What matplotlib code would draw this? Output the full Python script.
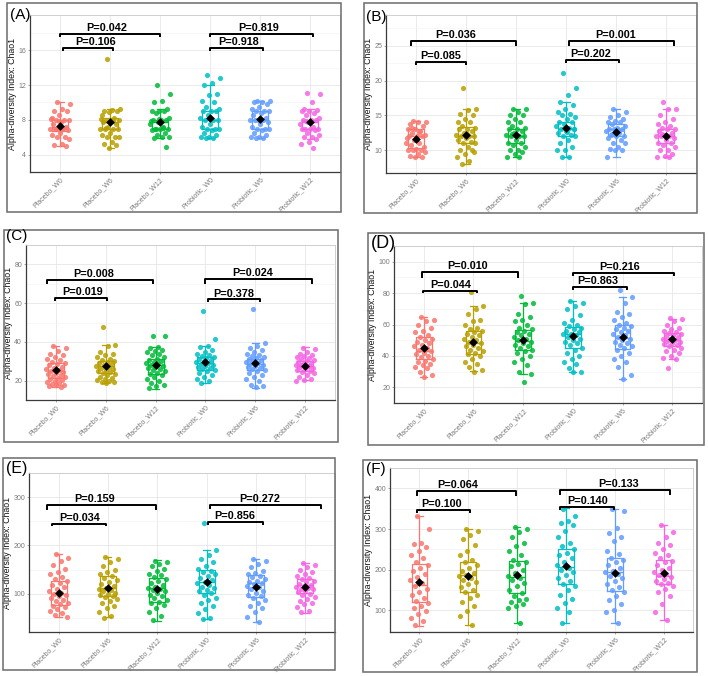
import numpy as np
import matplotlib
matplotlib.use("Agg")
import matplotlib.pyplot as plt
from matplotlib.patches import Rectangle

plt.rcParams["font.family"] = ["Liberation Sans", "DejaVu Sans"]

GROUPS = ["Placebo_W0", "Placebo_W6", "Placebo_W12",
          "Probiotic_W0", "Probiotic_W6", "Probiotic_W12"]
COLORS = ["#F8766D", "#B79F00", "#00BA38", "#00BFC4", "#619CFF", "#F564E3"]
YLABEL = "Alpha-diversity Index: Chao1"

# box stats per group: q1, median, q3, whisker low, whisker high, mean
A_BOX = [(6.7, 7.2, 8.0, 5.0, 10.0, 7.3), (7.0, 7.7, 8.2, 4.8, 9.2, 7.7),
         (7.0, 7.7, 8.0, 5.9, 9.2, 7.8), (7.0, 8.0, 9.0, 5.9, 12.0, 8.2),
         (7.0, 8.0, 9.0, 5.9, 10.2, 8.1), (7.0, 7.8, 8.0, 5.8, 9.2, 7.7)]
A_PTS = [
    [10, 9.8, 9.2, 9.0, 9.0, 8.5, 8.2, 8.0, 8.0, 8.0, 7.8, 7.5, 7.2, 7.0, 7.0, 7.0, 7.0, 6.8, 6.5, 6.2,
     6.0, 6.0, 5.8, 5.2, 5.1, 5.0, 7.9, 8.1, 7.1, 6.9],
    [15, 9.2, 9.1, 9.0, 9.0, 8.9, 8.5, 8.2, 8.0, 8.0, 8.0, 7.8, 7.5, 7.2, 7.0, 7.0, 7.0, 7.0, 6.5, 6.2,
     6.0, 6.0, 6.0, 5.5, 5.2, 5.1, 4.8, 8.1, 7.9, 7.1],
    [12, 11, 10.2, 10.0, 9.2, 9.0, 9.0, 9.0, 8.8, 8.2, 8.0, 8.0, 8.0, 7.8, 7.5, 7.2, 7.0, 7.0, 7.0, 6.8,
     6.5, 6.2, 6.0, 6.0, 5.9, 4.9, 8.1, 7.9, 7.1, 6.9],
    [13.2, 12.8, 12.2, 12.0, 11.0, 10.8, 10.2, 10.0, 9.5, 9.2, 9.0, 9.0, 9.0, 8.5, 8.2, 8.0, 8.0, 8.0,
     7.5, 7.2, 7.0, 7.0, 7.0, 6.8, 6.5, 6.2, 6.0, 6.0, 5.9, 5.9],
    [10.2, 10.2, 10.0, 10.0, 9.8, 9.5, 9.2, 9.0, 9.0, 9.0, 8.8, 8.5, 8.2, 8.0, 8.0, 8.0, 8.0, 7.8, 7.5,
     7.2, 7.0, 7.0, 7.0, 6.8, 6.5, 6.2, 6.0, 6.0, 5.9, 5.9],
    [11.1, 11.0, 10.0, 9.2, 9.1, 9.0, 9.0, 8.8, 8.5, 8.2, 8.0, 8.0, 8.0, 7.8, 7.5, 7.2, 7.0, 7.0, 7.0,
     7.0, 6.8, 6.5, 6.2, 6.0, 6.0, 5.8, 5.5, 5.2, 4.8, 7.9],
]
# brackets: x start, x end, bar y, tick end y, text x, label
A_BRACKETS = [(1.0, 3.0, 17.9, 17.5, 1.93, "P=0.042"), (1.05, 2.05, 16.25, 15.95, 1.72, "P=0.106"),
              (4.0, 6.05, 17.9, 17.5, 4.98, "P=0.819"), (4.0, 5.05, 16.25, 15.9, 4.57, "P=0.918")]
A_YTICKS = [4, 8, 12, 16]
A_YLIM = (3.76, 20.06)

B_BOX = [(10.3, 12.0, 13.1, 9.0, 14.2, 11.6), (11.0, 12.1, 13.3, 8.0, 16.0, 12.2),
         (11.0, 12.0, 13.1, 9.0, 16.0, 12.2), (12.1, 13.0, 14.0, 9.0, 17.0, 13.2),
         (12.1, 13.0, 13.8, 9.0, 16.0, 12.6), (11.0, 12.0, 13.0, 9.0, 16.0, 12.0)]
B_PTS = [
    [14.2, 14.0, 14.0, 13.8, 13.5, 13.0, 13.0, 12.8, 12.5, 12.2, 12.0, 12.0, 12.0, 11.5, 11.0, 11.0,
     10.8, 10.5, 10.2, 10.0, 10.0, 10.0, 9.8, 9.5, 9.2, 9.0, 9.0, 11.8, 12.6, 13.2],
    [19.0, 16.0, 15.8, 15.2, 15.0, 14.5, 14.0, 14.0, 13.5, 13.2, 13.0, 13.0, 12.8, 12.5, 12.2, 12.0,
     12.0, 12.0, 11.8, 11.5, 11.2, 11.0, 11.0, 10.5, 10.0, 10.0, 9.5, 9.0, 8.5, 8.0, 9.8, 12.4],
    [16.0, 16.0, 15.5, 15.0, 15.0, 14.5, 14.0, 14.0, 13.5, 13.2, 13.0, 13.0, 12.8, 12.5, 12.2, 12.0,
     12.0, 12.0, 11.5, 11.0, 11.0, 10.8, 10.5, 10.0, 10.0, 9.8, 9.5, 9.0, 9.0, 12.3],
    [21.1, 19.0, 18.0, 17.0, 16.5, 16.0, 15.5, 15.2, 15.0, 14.8, 14.5, 14.0, 14.0, 13.8, 13.5, 13.2,
     13.0, 13.0, 12.8, 12.5, 12.2, 12.0, 12.0, 11.5, 11.0, 10.5, 10.0, 10.0, 9.0, 9.0, 13.1, 12.6],
    [16.0, 15.5, 15.0, 14.8, 14.5, 14.2, 14.0, 14.0, 13.8, 13.5, 13.2, 13.0, 13.0, 13.0, 12.8, 12.5,
     12.2, 12.0, 12.0, 11.8, 11.5, 11.0, 11.0, 10.5, 10.2, 10.0, 10.0, 9.0, 12.9, 12.3],
    [17.0, 16.0, 16.0, 15.0, 14.5, 14.0, 13.8, 13.5, 13.2, 13.0, 13.0, 12.8, 12.5, 12.2, 12.0, 12.0,
     12.0, 11.8, 11.5, 11.0, 11.0, 10.8, 10.5, 10.0, 10.0, 9.5, 9.2, 9.0, 9.0, 12.4],
]
B_BRACKETS = [(0.9, 3.0, 25.67, 25.0, 1.8, "P=0.036"), (1.0, 2.0, 22.7, 22.3, 1.5, "P=0.085"),
              (4.05, 6.15, 25.7, 25.0, 5.0, "P=0.001"), (4.0, 5.05, 22.95, 22.5, 4.5, "P=0.202")]
B_YTICKS = [10, 15, 20, 25]
B_YLIM = (6.76, 29.4)

C_BOX = [(21.5, 24.8, 29.2, 16.8, 37.7, 25.4), (24.0, 27.6, 30.0, 19.0, 38.5, 27.8),
         (23.5, 28.0, 31.1, 15.8, 37.3, 28.2), (25.6, 29.2, 32.1, 18.7, 38.0, 29.8),
         (25.5, 28.7, 31.3, 16.1, 39.5, 28.9), (25.2, 27.6, 30.0, 20.3, 37.3, 27.5)]
C_PTS = [
    [37.7, 37.0, 35.5, 34.0, 33.0, 32.0, 31.0, 30.5, 29.5, 29.0, 28.5, 28.0, 27.0, 26.5, 26.0, 25.5,
     25.0, 24.5, 24.0, 23.5, 23.0, 22.5, 22.0, 21.5, 21.0, 20.5, 20.0, 19.5, 19.0, 18.5, 18.0, 17.5,
     17.0, 16.8],
    [47.5, 38.5, 38.0, 35.0, 34.0, 33.0, 32.0, 31.0, 30.5, 30.0, 29.5, 29.0, 28.5, 28.0, 27.5, 27.0,
     26.5, 26.0, 25.5, 25.0, 24.5, 24.0, 23.5, 23.0, 22.0, 21.5, 21.0, 20.5, 20.0, 19.5, 19.2, 19.0],
    [43.0, 43.0, 37.3, 37.0, 36.0, 35.5, 35.0, 34.0, 33.0, 32.0, 31.0, 30.5, 30.0, 29.5, 29.0, 28.5,
     28.0, 27.5, 27.0, 26.5, 26.0, 25.5, 25.0, 24.0, 23.5, 23.0, 22.0, 21.0, 20.0, 19.0, 18.0, 17.0,
     16.0],
    [56.0, 41.5, 38.0, 37.5, 36.0, 35.0, 34.0, 33.0, 32.5, 32.0, 31.5, 31.0, 30.5, 30.0, 29.5, 29.0,
     28.5, 28.0, 27.5, 27.0, 26.5, 26.0, 25.5, 25.0, 24.0, 23.0, 22.0, 21.0, 20.0, 19.0],
    [57.0, 39.5, 38.0, 37.0, 36.0, 35.0, 34.0, 33.0, 32.5, 32.0, 31.5, 31.0, 30.5, 30.0, 29.5, 29.0,
     28.5, 28.0, 27.5, 27.0, 26.5, 26.0, 25.5, 25.0, 24.0, 23.0, 22.0, 21.0, 20.0, 18.0, 17.0, 16.5],
    [37.0, 36.5, 35.0, 34.0, 33.0, 32.5, 32.0, 31.5, 31.0, 30.5, 30.0, 29.5, 29.0, 28.5, 28.0, 27.5,
     27.0, 26.5, 26.0, 25.5, 25.0, 24.5, 24.0, 23.0, 22.0, 21.0, 20.5, 20.0, 27.8, 28.2],
]
C_BRACKETS = [(0.83, 2.95, 71.9, 69.8, 1.75, "P=0.008"), (0.98, 2.03, 62.7, 61.1, 1.54, "P=0.019"),
              (4.0, 6.13, 72.4, 70.0, 4.95, "P=0.024"), (4.06, 5.09, 61.9, 60.6, 4.57, "P=0.378")]
C_YTICKS = [20, 40, 60, 80]
C_YLIM = (10.6, 85.6)

D_BOX = [(37.8, 43.0, 51.8, 26.3, 65.0, 45.0), (41.1, 48.0, 55.6, 30.3, 71.9, 49.0),
         (43.9, 49.3, 56.4, 28.2, 73.6, 50.0), (44.9, 54.1, 58.3, 29.6, 75.1, 52.5),
         (44.5, 51.4, 59.4, 25.0, 77.4, 52.0), (46.0, 50.2, 54.6, 38.2, 63.6, 50.5)]
D_PTS = [
    [65, 63, 62, 60, 58, 56, 55, 53, 52, 51, 50, 49, 48, 47, 46, 45, 44, 43, 42, 41, 40, 39, 38, 37,
     36, 35, 34, 33, 32, 30, 28, 26.5],
    [81, 72, 70, 67, 63, 62, 60, 58, 57, 56, 55, 54, 53, 52, 51, 50, 49, 48, 47, 46, 45, 44, 43, 42,
     41, 40, 38, 36, 35, 33, 31, 30],
    [78, 73.6, 73, 67, 65, 63, 62, 60, 58, 57, 56, 55, 54, 53, 52, 51, 50, 49, 48, 47, 46, 45, 44, 43,
     42, 40, 38, 36, 34, 30, 28.5, 23.5],
    [75, 74, 72, 70, 66, 63, 61, 60, 59, 58, 57, 56, 55, 54, 54, 53, 52, 51, 50, 49, 48, 47, 45, 44,
     42, 40, 38, 36, 35, 32, 30, 29.6],
    [82, 77.4, 74, 68, 67, 65, 63, 61, 60, 59, 58, 57, 56, 55, 54, 53, 52, 51, 50, 49, 48, 47, 46, 45,
     44, 42, 40, 38, 36, 33, 28, 25],
    [64, 63.5, 62, 60, 58, 57, 56, 55, 54.5, 54, 53, 52.5, 52, 51, 50.5, 50, 49.5, 49, 48, 47.5, 47,
     46, 45, 44, 43, 42, 40, 38.5, 38, 32.5],
]
D_BRACKETS = [(0.97, 2.9, 93.3, 89.5, 1.89, "P=0.010"), (0.98, 2.07, 81.4, 79.9, 1.54, "P=0.044"),
              (4.0, 6.03, 92.7, 90.8, 4.95, "P=0.216"), (4.0, 5.1, 84.1, 81.8, 4.5, "P=0.863")]
D_YTICKS = [20, 40, 60, 80, 100]
D_YLIM = (16.7, 107.3)

E_BOX = [(76.0, 100.0, 126.7, 51.3, 182.7, 102.0), (94.7, 111.3, 136.7, 51.3, 176.7, 112.5),
         (83.3, 111.3, 132.7, 44.7, 169.3, 109.0), (102.7, 124.7, 149.3, 48.0, 191.3, 125.0),
         (93.3, 122.0, 138.0, 41.3, 172.7, 115.0), (101.3, 118.0, 130.0, 61.3, 164.7, 115.0)]
E_PTS = [
    [182, 175, 168, 160, 152, 145, 140, 135, 130, 126, 122, 118, 114, 110, 106, 102, 100, 98, 95, 92,
     88, 85, 82, 78, 75, 72, 68, 64, 60, 56, 52],
    [176, 172, 165, 158, 150, 145, 140, 136, 132, 128, 124, 120, 116, 113, 110, 108, 105, 102, 100,
     98, 96, 94, 90, 85, 80, 75, 70, 62, 55, 51],
    [168, 165, 162, 158, 152, 148, 142, 138, 134, 130, 126, 122, 118, 115, 112, 110, 108, 105, 102,
     98, 95, 92, 88, 84, 80, 76, 70, 62, 55, 45],
    [247, 190, 180, 172, 165, 158, 152, 148, 145, 140, 136, 132, 128, 125, 122, 118, 115, 112, 108,
     105, 102, 98, 92, 88, 82, 75, 68, 60, 50, 48],
    [172, 168, 162, 155, 148, 144, 140, 137, 134, 130, 127, 124, 122, 120, 117, 114, 110, 106, 102,
     98, 95, 92, 88, 82, 75, 70, 62, 52, 42],
    [164, 160, 155, 150, 145, 140, 136, 132, 130, 127, 124, 121, 119, 117, 115, 113, 111, 109, 106,
     103, 100, 97, 94, 90, 86, 82, 78, 72, 65, 62],
]
E_BRACKETS = [(0.76, 2.97, 284.7, 272.7, 1.72, "P=0.159"), (0.86, 1.97, 244.7, 239.3, 1.42, "P=0.034"),
              (4.07, 6.32, 284.7, 274.7, 5.07, "P=0.272"), (4.03, 5.14, 248.0, 242.7, 4.57, "P=0.856")]
E_YTICKS = [100, 200, 300]
E_YLIM = (21, 339)

F_BOX = [(121, 162, 215, 62, 332, 170), (146, 187.5, 218.7, 64.8, 300.8, 185),
         (142, 182, 221, 68.8, 306, 187), (164, 205.5, 251.6, 68, 351.6, 208),
         (148, 195, 228, 68, 350, 192), (164, 185, 225, 76.6, 310, 192)]
F_PTS = [
    [332, 300, 265, 262, 255, 245, 235, 228, 220, 212, 205, 198, 190, 182, 175, 168, 160, 152, 145,
     138, 130, 122, 118, 112, 105, 98, 90, 82, 75, 65],
    [300, 295, 285, 275, 260, 245, 235, 225, 218, 212, 205, 198, 192, 188, 185, 180, 175, 170, 165,
     158, 150, 145, 138, 130, 120, 110, 98, 85, 65],
    [305, 300, 292, 280, 265, 258, 245, 235, 225, 220, 215, 210, 200, 192, 185, 180, 175, 168, 160,
     150, 142, 135, 128, 125, 120, 115, 110, 105, 69],
    [350, 333, 320, 315, 310, 295, 280, 265, 258, 250, 242, 235, 228, 220, 212, 205, 200, 195, 188,
     180, 172, 165, 160, 150, 138, 128, 118, 105, 95, 68],
    [350, 345, 302, 290, 280, 270, 245, 238, 230, 225, 220, 212, 205, 198, 195, 190, 185, 180, 172,
     165, 158, 150, 145, 135, 125, 115, 100, 95, 68],
    [310, 292, 280, 265, 260, 250, 240, 235, 228, 222, 218, 212, 205, 200, 195, 190, 186, 182, 178,
     172, 168, 165, 160, 152, 145, 135, 115, 95, 76],
]
F_BRACKETS = [(0.95, 2.98, 394.5, 380.5, 1.78, "P=0.064"), (0.95, 2.04, 347.7, 338.3, 1.46, "P=0.100"),
              (3.88, 6.12, 396.0, 382.8, 5.07, "P=0.133"), (3.88, 4.98, 353.9, 347.7, 4.44, "P=0.140")]
F_YTICKS = [100, 200, 300, 400]
F_YLIM = (46.9, 429.7)

# layout in pixels (x0, y0, x1, y1), measured from the top left of the 708x676 image
W, H = 708, 676
PANELS = [
    ("(A)", A_BOX, A_PTS, A_BRACKETS, A_YTICKS, A_YLIM, (7, 3, 341, 212), (30, 15, 340, 172), (10, 8), 11),
    ("(B)", B_BOX, B_PTS, B_BRACKETS, B_YTICKS, B_YLIM, (364, 3, 697, 213), (386, 15, 696, 173), (366, 10), 11),
    ("(C)", C_BOX, C_PTS, C_BRACKETS, C_YTICKS, C_YLIM, (4, 230, 338, 442), (26, 245, 335, 400), (6, 229), 11),
    ("(D)", D_BOX, D_PTS, D_BRACKETS, D_YTICKS, D_YLIM, (368, 233, 704, 445), (394, 246, 702, 403), (371, 235), 13),
    ("(E)", E_BOX, E_PTS, E_BRACKETS, E_YTICKS, E_YLIM, (3, 458, 335, 670), (29, 473, 335, 632), (6, 461), 11.5),
    ("(F)", F_BOX, F_PTS, F_BRACKETS, F_YTICKS, F_YLIM, (363, 460, 697, 672), (390, 468, 693, 632), (366, 462), 11),
]


def px_rect(x0, y0, x1, y1):
    return [x0 / W, 1 - y1 / H, (x1 - x0) / W, (y1 - y0) / H]


def draw_panel(fig, label, box, pts, brackets, yticks, ylim, frame, axpos, labpos, labsize):
    fx = px_rect(*frame)
    fig.patches.append(Rectangle((fx[0], fx[1]), fx[2], fx[3], transform=fig.transFigure,
                                 fill=False, edgecolor="#6b6b6b", linewidth=1.1))
    ax = fig.add_axes(px_rect(*axpos))
    ax.set_xlim(0.4, 6.6)
    ax.set_ylim(*ylim)
    xs = np.arange(1, len(GROUPS) + 1)

    stats = [dict(q1=b[0], med=b[1], q3=b[2], whislo=b[3], whishi=b[4], fliers=[]) for b in box]
    for i, (st, col) in enumerate(zip(stats, COLORS)):
        ax.bxp([st], positions=[xs[i]], widths=0.32, showfliers=False, patch_artist=False,
               boxprops=dict(color=col, linewidth=0.9),
               medianprops=dict(color=col, linewidth=1.0),
               whiskerprops=dict(color=col, linewidth=0.9),
               capprops=dict(color=col, linewidth=0.9), capwidths=0.14, zorder=3)
        vals = np.asarray(pts[i], dtype=float)
        k = np.arange(len(vals))
        jitter = ((k * 0.618034 + 0.37) % 1.0 - 0.5) * 0.40
        ax.scatter(xs[i] + jitter, vals, s=14, color=col, alpha=0.85, linewidths=0, zorder=4)
        ax.scatter([xs[i]], [box[i][5]], marker="D", s=20, color="black", zorder=5, linewidths=0)

    for x0, x1, y, ty, tx, txt in brackets:
        ax.plot([x0, x0, x1, x1], [ty, y, y, ty], color="black", linewidth=1.4,
                solid_capstyle="butt", zorder=6, clip_on=False)
        ax.annotate(txt, (tx, y), xytext=(0, 0.6), textcoords="offset points",
                    ha="center", va="bottom", fontsize=7.8, fontweight="bold", zorder=7)

    ax.set_xticks(xs)
    ax.set_xticklabels(GROUPS, rotation=45, ha="right", rotation_mode="anchor",
                       fontsize=5, color="#7a7a7a")
    ax.set_yticks(yticks)
    ax.set_yticklabels([str(t) for t in yticks], fontsize=5, color="#7a7a7a")
    step = yticks[1] - yticks[0]
    ax.set_yticks([t + step / 2 for t in [yticks[0] - step] + yticks], minor=True)
    ax.tick_params(axis="both", length=1.6, width=0.5, color="#888888", pad=1.2)
    ax.tick_params(axis="y", which="minor", length=0)
    ax.grid(True, which="major", color="#e6e6e6", linewidth=0.6)
    ax.grid(True, which="minor", axis="y", color="#f2f2f2", linewidth=0.4)
    ax.set_axisbelow(True)
    for side in ("left", "bottom"):
        ax.spines[side].set_color("#3a3a3a")
        ax.spines[side].set_linewidth(0.9)
    for side in ("top", "right"):
        ax.spines[side].set_color("#c8c8c8")
        ax.spines[side].set_linewidth(0.6)
    ax.set_ylabel(YLABEL, fontsize=6.3, color="#111111", labelpad=1.0)

    fig.text(labpos[0] / W, 1 - labpos[1] / H, label, fontsize=labsize, ha="left", va="top")


fig = plt.figure(figsize=(W / 100, H / 100), dpi=100)
for panel in PANELS:
    draw_panel(fig, *panel)

fig.savefig("out.png", dpi=100)
